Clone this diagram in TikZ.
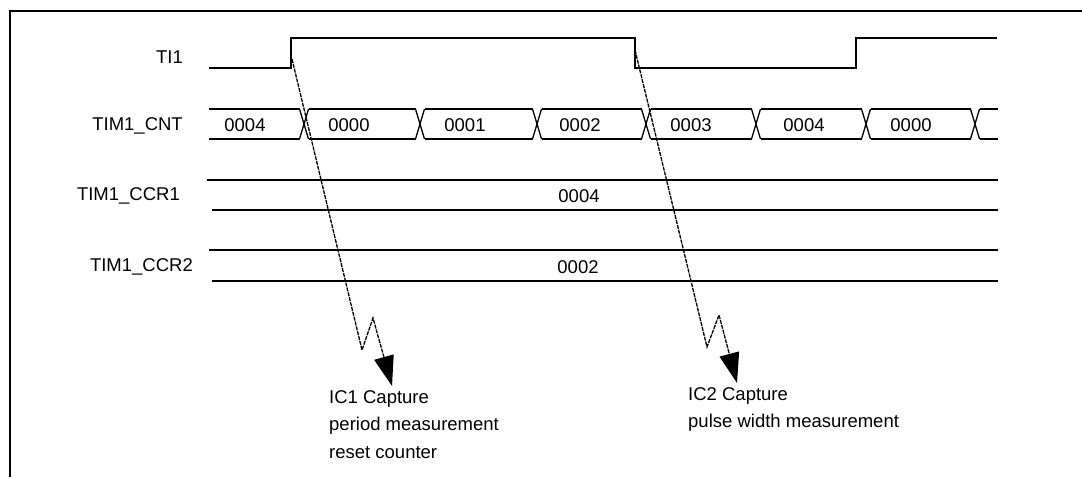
\documentclass[tikz,border=0pt]{standalone}
\usepackage{fontspec}
\setmainfont{Liberation Sans}
\usetikzlibrary{arrows.meta,positioning}

\begin{document}
\begin{tikzpicture}[x=1pt, y=-1pt, font=\fontsize{18.5}{27.5}\selectfont,
  wave/.style={line width=1.3pt, line join=miter},
  lbl/.style={anchor=east, inner sep=0pt},
  val/.style={inner sep=0pt},
  capture/.style={line width=1.3pt, dash pattern=on 4pt off 1pt, -{Triangle[length=30pt, width=20pt]}},
  note/.style={anchor=north west, align=left, inner sep=0pt}]
\useasboundingbox (0,0) rectangle (1082,477);
% frame
\draw[line width=1.5pt] (10,477) -- (10,11) -- (1082,11);
% signal names
\node[lbl] (ti1) at (183,57) {TI1};
\node[lbl] (cnt) at (183,126) {TIM1\_CNT};
\node[lbl] (ccr1) at (180,196) {TIM1\_CCR1};
\node[lbl] (ccr2) at (193,267) {TIM1\_CCR2};
% TI1 input
\draw[wave] (209,68) -- (291,68) -- (291,38) -- (635,38) -- (635,68) -- (856,68) -- (856,38) -- (997,38);
\coordinate (e1) at (292,59);
\coordinate (e2) at (635,50);
% counter bus
\foreach \a/\b/\c/\v in {204.5/304/245/0004, 304/420/349/0000, 420/537/465/0001,
    537/646/580/0002, 646/756/691/0003, 756/866/804/0004, 866/975/911/0000}{
  \draw[wave] (\a+4.5,109) -- (\b-4.5,109);
  \draw[wave] (\a+4.5,139) -- (\b-4.5,139);
  \draw[wave] (\b-4.5,109) -- (\b+4.5,139);
  \draw[wave] (\b-4.5,139) -- (\b+4.5,109);
  \node[val] at (\c,125) {\v};
}
\draw[wave] (979.5,109) -- (998,109);
\draw[wave] (979.5,139) -- (998,139);
% capture registers
\draw[wave] (207,180) -- (998,180);
\draw[wave] (212,210) -- (998,210);
\node[val] (v1) at (579,196) {0004};
\draw[wave] (209,250) -- (998,250);
\draw[wave] (212,281) -- (998,281);
\node[val] (v2) at (578,267) {0002};
% capture events
\node[note] (ic1) at (329,390) {IC1 Capture\\period measurement\\reset counter};
\node[note] (ic2) at (688,387) {IC2 Capture\\pulse width measurement};
\coordinate (z1a) at (362,350);
\coordinate (z1b) at (373,318);
\coordinate (t1) at (392,386);
\coordinate (z2a) at (707,347);
\coordinate (z2b) at (719,315);
\coordinate (t2) at (737,383);
\draw[capture] (e1) -- (z1a) -- (z1b) -- (t1);
\draw[capture] (e2) -- (z2a) -- (z2b) -- (t2);
\end{tikzpicture}
\end{document}
